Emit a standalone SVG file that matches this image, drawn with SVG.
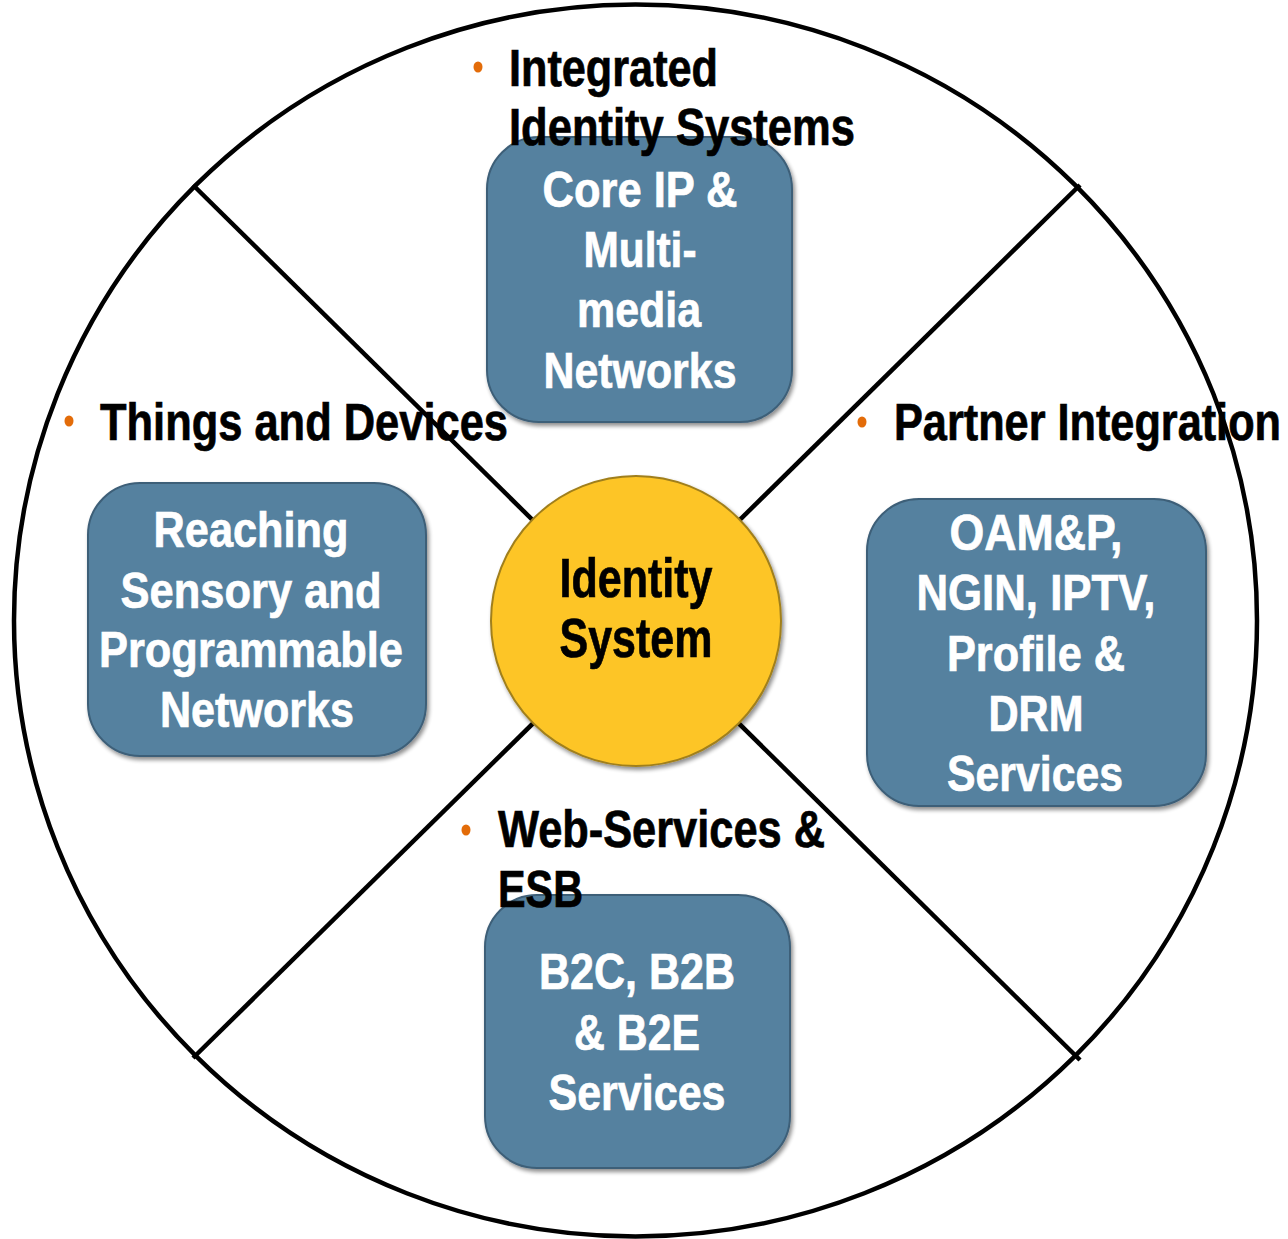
<svg xmlns="http://www.w3.org/2000/svg" width="1288" height="1239" viewBox="0 0 1288 1239">
<style>
.box{fill:#54819f;stroke:#3e5f78;stroke-width:2}
.bt{font-family:"Liberation Sans",Arial,sans-serif;font-weight:bold;font-size:50px;fill:#ffffff;stroke:#ffffff;stroke-width:0.7;text-anchor:middle}
.ht{font-family:"Liberation Sans",Arial,sans-serif;font-weight:bold;font-size:51px;fill:#000000;stroke:#000000;stroke-width:0.7}
.ct{font-family:"Liberation Sans",Arial,sans-serif;font-weight:bold;font-size:56px;fill:#000000;stroke:#000000;stroke-width:0.7;text-anchor:middle}
.bul{fill:#e36c09}
.ln{stroke:#000;stroke-width:4.5;fill:none}
</style>
<defs>
<filter id="sh" x="-10%" y="-10%" width="125%" height="125%">
<feGaussianBlur in="SourceAlpha" stdDeviation="2"/>
<feOffset dx="2" dy="3" result="o"/>
<feComponentTransfer><feFuncA type="linear" slope="0.45"/></feComponentTransfer>
<feMerge><feMergeNode/><feMergeNode in="SourceGraphic"/></feMerge>
</filter>
</defs>
<rect width="1288" height="1239" fill="#ffffff"/>
<ellipse id="outer" cx="635.5" cy="620.5" rx="621.5" ry="616" class="ln" stroke-width="5"/>
<g id="connectors">
<line x1="193" y1="185" x2="1080" y2="1060" class="ln"/>
<line x1="1080" y1="185" x2="193" y2="1058" class="ln"/>
</g>
<g id="center">
<circle cx="636" cy="621" r="145" fill="#fdc526" stroke="#a07f1c" stroke-width="2" filter="url(#sh)"/>
<text class="ct" x="636" y="597" textLength="153" lengthAdjust="spacingAndGlyphs">Identity</text>
<text class="ct" x="636" y="657" textLength="153" lengthAdjust="spacingAndGlyphs">System</text>
</g>
<g id="box-top">
<rect class="box" x="487" y="137" width="305" height="285" rx="52" filter="url(#sh)"/>
<text class="bt" x="640" y="207" textLength="195" lengthAdjust="spacingAndGlyphs">Core IP &amp;</text>
<text class="bt" x="640" y="267" textLength="113" lengthAdjust="spacingAndGlyphs">Multi-</text>
<text class="bt" x="639" y="327" textLength="124" lengthAdjust="spacingAndGlyphs">media</text>
<text class="bt" x="640" y="388" textLength="193" lengthAdjust="spacingAndGlyphs">Networks</text>
</g>
<g id="box-left">
<rect class="box" x="88" y="483" width="338" height="273" rx="52" filter="url(#sh)"/>
<text class="bt" x="251" y="547" textLength="195" lengthAdjust="spacingAndGlyphs">Reaching</text>
<text class="bt" x="251" y="608" textLength="261" lengthAdjust="spacingAndGlyphs">Sensory and</text>
<text class="bt" x="251" y="667" textLength="304" lengthAdjust="spacingAndGlyphs">Programmable</text>
<text class="bt" x="257" y="727" textLength="194" lengthAdjust="spacingAndGlyphs">Networks</text>
</g>
<g id="box-right">
<rect class="box" x="867" y="499" width="339" height="307" rx="52" filter="url(#sh)"/>
<text class="bt" x="1036" y="550" textLength="173" lengthAdjust="spacingAndGlyphs">OAM&amp;P,</text>
<text class="bt" x="1036" y="610" textLength="239" lengthAdjust="spacingAndGlyphs">NGIN, IPTV,</text>
<text class="bt" x="1036" y="671" textLength="178" lengthAdjust="spacingAndGlyphs">Profile &amp;</text>
<text class="bt" x="1036" y="731" textLength="95" lengthAdjust="spacingAndGlyphs">DRM</text>
<text class="bt" x="1035" y="791" textLength="176" lengthAdjust="spacingAndGlyphs">Services</text>
</g>
<g id="box-bottom">
<rect class="box" x="485" y="895" width="305" height="273" rx="52" filter="url(#sh)"/>
<text class="bt" x="637" y="989" textLength="196" lengthAdjust="spacingAndGlyphs">B2C, B2B</text>
<text class="bt" x="637" y="1050" textLength="126" lengthAdjust="spacingAndGlyphs">&amp; B2E</text>
<text class="bt" x="637" y="1110" textLength="177" lengthAdjust="spacingAndGlyphs">Services</text>
</g>
<g id="label-top">
<ellipse class="bul" cx="478" cy="67" rx="4.5" ry="5.5"/>
<text class="ht" x="509" y="86" textLength="209" lengthAdjust="spacingAndGlyphs">Integrated</text>
<text class="ht" x="509" y="145" textLength="346" lengthAdjust="spacingAndGlyphs">Identity Systems</text>
</g>
<g id="label-left">
<ellipse class="bul" cx="69" cy="421" rx="4.5" ry="5.5"/>
<text class="ht" x="100" y="440" textLength="408" lengthAdjust="spacingAndGlyphs">Things and Devices</text>
</g>
<g id="label-right">
<ellipse class="bul" cx="862" cy="422" rx="4.5" ry="5.5"/>
<text class="ht" x="894" y="440" textLength="387" lengthAdjust="spacingAndGlyphs">Partner Integration</text>
</g>
<g id="label-bottom">
<ellipse class="bul" cx="466" cy="830" rx="4.5" ry="5.5"/>
<text class="ht" x="498" y="847" textLength="327" lengthAdjust="spacingAndGlyphs">Web-Services &amp;</text>
<text class="ht" x="498" y="907" textLength="85" lengthAdjust="spacingAndGlyphs">ESB</text>
</g>
</svg>
